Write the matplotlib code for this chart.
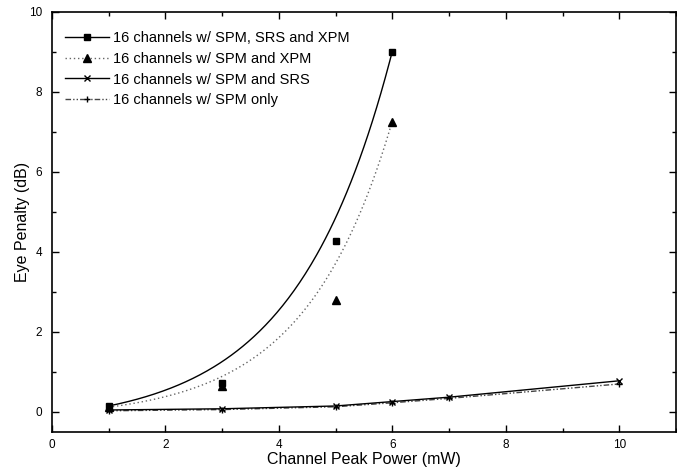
import numpy as np
import matplotlib
matplotlib.use("Agg")
import matplotlib.pyplot as plt
from matplotlib.ticker import MultipleLocator

plt.rcParams['font.family'] = ['Liberation Sans', 'DejaVu Sans']

# Data
x_full = [1, 3, 5, 6]
y_full = [0.15, 0.73, 4.28, 9.0]          # SPM, SRS and XPM
y_xpm = [0.12, 0.64, 2.80, 7.25]          # SPM and XPM
x_low = [1, 3, 5, 6, 7, 10]
y_srs = [0.05, 0.08, 0.15, 0.26, 0.37, 0.78]   # SPM and SRS
y_spm = [0.03, 0.06, 0.13, 0.23, 0.34, 0.70]   # SPM only

labels = ["16 channels w/ SPM, SRS and XPM",
          "16 channels w/ SPM and XPM",
          "16 channels w/ SPM and SRS",
          "16 channels w/ SPM only"]

# exponential fit parameters (y = y0 + A*exp(b*x))
fit_full = (-0.345, 0.275, 0.588)
fit_xpm = (-0.169, 0.1507, 0.65)

fig = plt.figure(figsize=(6.77, 4.70), dpi=100)
ax = fig.add_axes([0.0768, 0.0809, 0.9217, 0.8936])

xs = np.linspace(1, 6, 200)
def expfit(p, x):
    return p[0] + p[1] * np.exp(p[2] * x)

dot_style = (0, (1, 2))
dashdot2 = (0, (4, 1.5, 1, 1.5, 1, 1.5))

ax.plot(xs, expfit(fit_full, xs), color='black', lw=1.0)
ax.plot(xs, expfit(fit_xpm, xs), color='#666666', lw=1.0, linestyle=dot_style)
ax.plot(x_low, y_spm, color='#444444', lw=1.0, linestyle=dashdot2)
ax.plot(x_low, y_srs, color='black', lw=1.0)

ax.plot(x_full, y_full, 's', color='black', ms=5, linestyle='none')
ax.plot(x_full, y_xpm, '^', color='black', ms=5.5, linestyle='none')
ax.plot(x_low, y_srs, 'x', color='black', ms=5, mew=1.0, linestyle='none')
ax.plot(x_low, y_spm, '+', color='black', ms=5, mew=1.0, linestyle='none')

# legend proxies
h1, = ax.plot([], [], color='black', lw=1.0, marker='s', ms=5)
h2, = ax.plot([], [], color='#666666', lw=1.0, linestyle=dot_style, marker='^', ms=5.5,
              mfc='black', mec='black')
h3, = ax.plot([], [], color='black', lw=1.0, marker='x', ms=5)
h4, = ax.plot([], [], color='#444444', lw=1.0, linestyle=dashdot2,
              marker='+', ms=5, mec='black')
leg = ax.legend([h1, h2, h3, h4], labels, loc='upper left', frameon=False,
                numpoints=1, handlelength=3.0, handletextpad=0.3, labelspacing=0.45,
                fontsize=10.5, bbox_to_anchor=(0.0, 0.985), borderaxespad=0.5)

ax.set_xlim(0, 11)
ax.set_ylim(-0.5, 10)
ax.xaxis.set_major_locator(MultipleLocator(2))
ax.xaxis.set_minor_locator(MultipleLocator(1))
ax.yaxis.set_major_locator(MultipleLocator(2))
ax.yaxis.set_minor_locator(MultipleLocator(1))
ax.set_xticks([0, 2, 4, 6, 8, 10])
ax.tick_params(which='both', direction='in', top=True, right=True, labelsize=8.5,
               width=1.0)
ax.tick_params(which='major', length=5)
ax.tick_params(which='minor', length=3)
ax.tick_params(axis='y', pad=7)
ax.tick_params(axis='x', pad=5)
for s in ax.spines.values():
    s.set_linewidth(1.2)

ax.set_xlabel("Channel Peak Power (mW)", fontsize=11.5, labelpad=1)
ax.set_ylabel("Eye Penalty (dB)", fontsize=11.5, labelpad=-1)

fig.savefig("out.png", dpi=100)
